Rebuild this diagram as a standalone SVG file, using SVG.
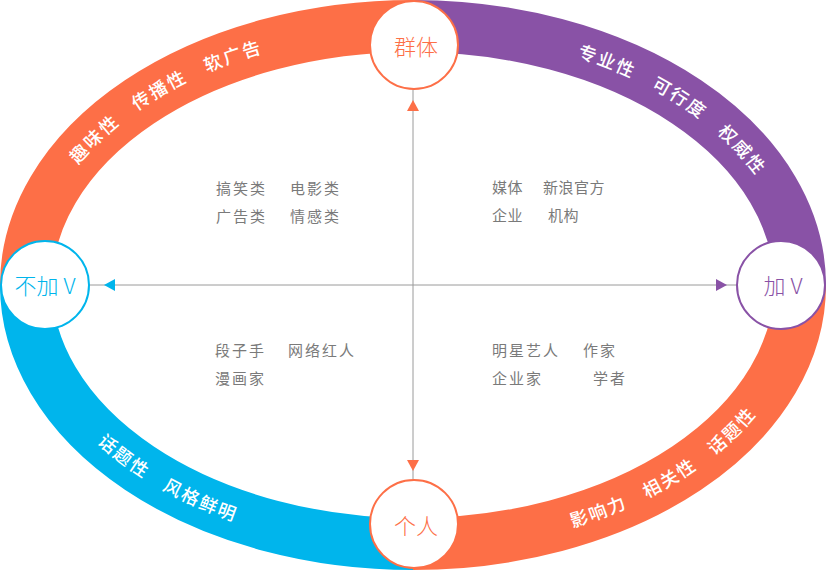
<svg xmlns="http://www.w3.org/2000/svg" xmlns:xlink="http://www.w3.org/1999/xlink" width="826" height="570" viewBox="0 0 826 570">
<style>
.ring{fill:none;stroke-width:52}
.arc{font-family:"Noto Sans CJK SC","Noto Sans",sans-serif;font-size:18px;font-weight:500;fill:#fff;letter-spacing:2px}
.q{font-family:"Noto Sans CJK SC","Noto Sans",sans-serif;font-size:15px;fill:#7a7a7a;letter-spacing:2px}
.q2{letter-spacing:0.5px}
.node circle{fill:#fff;stroke-width:2}
.lbl{font-family:"Noto Sans CJK SC","Noto Sans",sans-serif;font-size:22px;font-weight:300;text-anchor:middle;dominant-baseline:central}
.axis{stroke:#9a9a9a;stroke-width:1;fill:none}
</style>
<defs>
<path id="tTL" d="M 32.5 285 A 380.5 252.5 0 0 1 413 32.5"/>
<path id="tTR" d="M 413 32.5 A 380.5 252.5 0 0 1 793.5 285"/>
<path id="tBL" d="M 19.5 285 A 393.5 265.5 0 0 0 413 550.5"/>
<path id="tBR" d="M 413 550.5 A 393.5 265.5 0 0 0 806.5 285"/>
</defs>
<g id="ring">
<path class="ring" stroke="#fd6f47" d="M 26 285 A 387 259 0 0 1 413 26"/>
<path class="ring" stroke="#8952a6" d="M 413 26 A 387 259 0 0 1 800 285"/>
<path class="ring" stroke="#fd6f47" d="M 800 285 A 387 259 0 0 1 413 544"/>
<path class="ring" stroke="#00b5ec" d="M 413 544 A 387 259 0 0 1 26 285"/>
<text class="arc"><textPath xlink:href="#tTL" href="#tTL" startOffset="48%" text-anchor="middle">趣味性　传播性　软广告</textPath></text>
<text class="arc"><textPath xlink:href="#tTR" href="#tTR" startOffset="55%" text-anchor="middle">专业性　可行度　权威性</textPath></text>
<text class="arc"><textPath xlink:href="#tBL" href="#tBL" startOffset="50%" text-anchor="middle">话题性　风格鲜明</textPath></text>
<text class="arc"><textPath xlink:href="#tBR" href="#tBR" startOffset="52%" text-anchor="middle">影响力　相关性　话题性</textPath></text>
</g>
<g id="connectors">
<line class="axis" x1="413" y1="89" x2="413" y2="480"/>
<line class="axis" x1="89" y1="285" x2="737" y2="285"/>
<polygon fill="#fd6f47" points="413,100 407,111 419,111"/>
<polygon fill="#fd6f47" points="413,471 407,460 419,460"/>
<polygon fill="#00b5ec" points="104,285 115,279 115,291"/>
<polygon fill="#8952a6" points="727,285 716,279 716,291"/>
</g>
<g id="quadrant-tl">
<text class="q" x="216" y="194">搞笑类</text>
<text class="q" x="290" y="194">电影类</text>
<text class="q" x="216" y="222">广告类</text>
<text class="q" x="290" y="222">情感类</text>
</g>
<g id="quadrant-tr">
<text class="q q2" x="492" y="193">媒体</text>
<text class="q q2" x="543" y="193">新浪官方</text>
<text class="q q2" x="492" y="221">企业</text>
<text class="q q2" x="548" y="221">机构</text>
</g>
<g id="quadrant-bl">
<text class="q" x="215" y="356">段子手</text>
<text class="q" x="288" y="356">网络红人</text>
<text class="q" x="215" y="384">漫画家</text>
</g>
<g id="quadrant-br">
<text class="q" x="492" y="356">明星艺人</text>
<text class="q" x="583" y="356">作家</text>
<text class="q" x="492" y="384">企业家</text>
<text class="q" x="593" y="384">学者</text>
</g>
<g id="node-group" class="node">
<circle cx="414" cy="45" r="44" stroke="#fd6f47"/>
<text class="lbl" x="416" y="45" fill="#fd6f47">群体</text>
</g>
<g id="node-plusv" class="node">
<circle cx="781" cy="285" r="44" stroke="#8952a6"/>
<text class="lbl" x="783" y="284" fill="#8952a6">加 V</text>
</g>
<g id="node-person" class="node">
<circle cx="414" cy="524" r="44" stroke="#fd6f47"/>
<text class="lbl" x="416" y="524" fill="#fd6f47">个人</text>
</g>
<g id="node-nov" class="node">
<circle cx="45" cy="285" r="44" stroke="#00b5ec"/>
<text class="lbl" x="45" y="284" fill="#00b5ec">不加 V</text>
</g>
</svg>
